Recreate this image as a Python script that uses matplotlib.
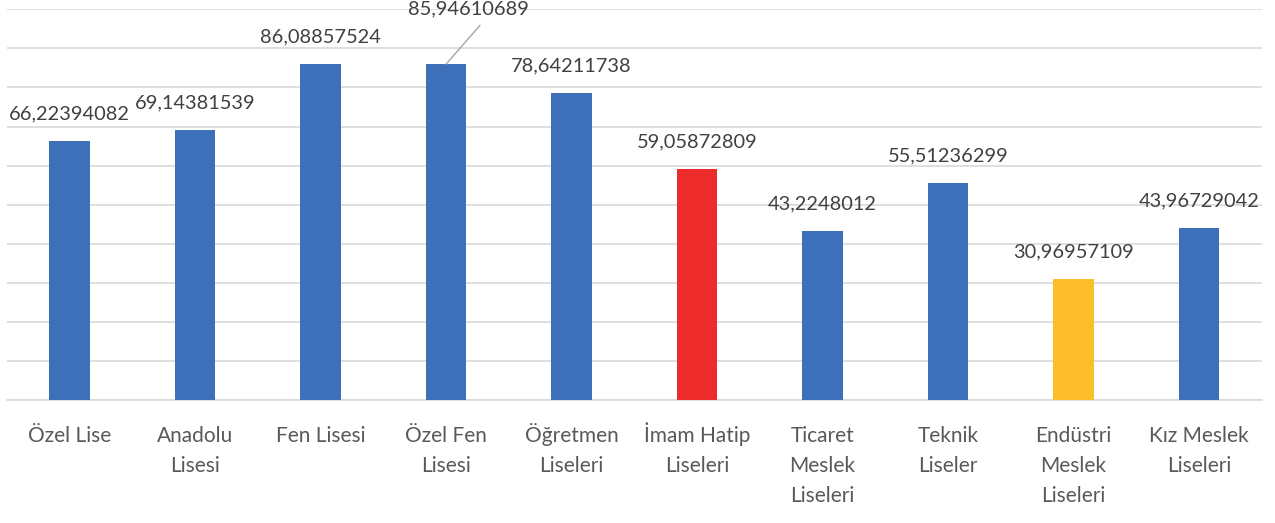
import matplotlib.pyplot as plt
import numpy as np

categories = ["Özel Lise", "Anadolu\nLisesi", "Fen Lisesi", "Özel Fen\nLisesi",
              "Öğretmen\nLiseleri", "İmam Hatip\nLiseleri", "Ticaret\nMeslek\nLiseleri",
              "Teknik\nLiseler", "Endüstri\nMeslek\nLiseleri", "Kız Meslek\nLiseleri"]
values = [66.22394082, 69.14381539, 86.08857524, 85.94610689, 78.64211738,
          59.05872809, 43.2248012, 55.51236299, 30.96957109, 43.96729042]
colors = ["#3E70B9"] * 5 + ["#EE2B2B"] + ["#3E70B9"] * 2 + ["#FDBE2B"] + ["#3E70B9"]

plt.rcParams['font.family'] = ['Lato', 'DejaVu Sans']

fig = plt.figure(figsize=(12.75, 5.23), dpi=100)
ax = fig.add_axes([0.00525, 0.2352, 0.9844, 0.747])

x = np.arange(len(categories))
ax.bar(x, values, width=0.32, color=colors, zorder=3)

ax.set_xlim(-0.5, len(categories) - 0.5)
ax.set_ylim(0, 100)
ax.set_yticks(np.arange(0, 101, 10))
ax.yaxis.grid(True, color="#D9D9D9", linewidth=1.2, zorder=0)
ax.tick_params(axis='y', left=False, labelleft=False)
ax.tick_params(axis='x', bottom=False, pad=15, labelsize=15, labelcolor="#595959")
ax.set_xticks(x)
ax.set_xticklabels(categories)
for lbl in ax.get_xticklabels():
    lbl.set_multialignment('center')
    lbl.set_linespacing(1.65)

for s in ["top", "left", "right"]:
    ax.spines[s].set_visible(False)
ax.spines["bottom"].set_color("#D9D9D9")
ax.spines["bottom"].set_linewidth(1.2)

for i, v in enumerate(values):
    txt = str(v).replace(".", ",")
    if i == 3:
        # this label sits higher, joined to its bar by a leader line
        ax.annotate(txt, xy=(i, v), xytext=(16, 40), textcoords="offset points",
                    ha="center", va="center", fontsize=14.4, color="#404040",
                    annotation_clip=False)
        ax.annotate("", xy=(i, v), xytext=(24.5, 28), textcoords="offset points",
                    annotation_clip=False,
                    arrowprops=dict(arrowstyle="-", color="#A6A6A6", lw=1,
                                    shrinkA=0, shrinkB=0))
    else:
        ax.annotate(txt, xy=(i, v), xytext=(0, 19.4), textcoords="offset points",
                    ha="center", va="center", fontsize=14.4, color="#404040")

# accented capitals (Ö, İ) make the first line taller, so lift those labels
# to keep every first line on the same baseline
fig.canvas.draw()
r = fig.canvas.get_renderer()
ax_h = ax.get_window_extent().height
for lbl in ax.get_xticklabels():
    fp = lbl.get_fontproperties()
    _, lp_h, lp_d = r.get_text_width_height_descent("lp", fp, ismath=False)
    _, h, d = r.get_text_width_height_descent(lbl.get_text().split("\n")[0], fp, ismath=False)
    extra = max(h, lp_h) - max(d, lp_d) - (lp_h - lp_d)
    lbl.set_y(max(extra, 0) / ax_h)

fig.savefig("out.png", dpi=100)
